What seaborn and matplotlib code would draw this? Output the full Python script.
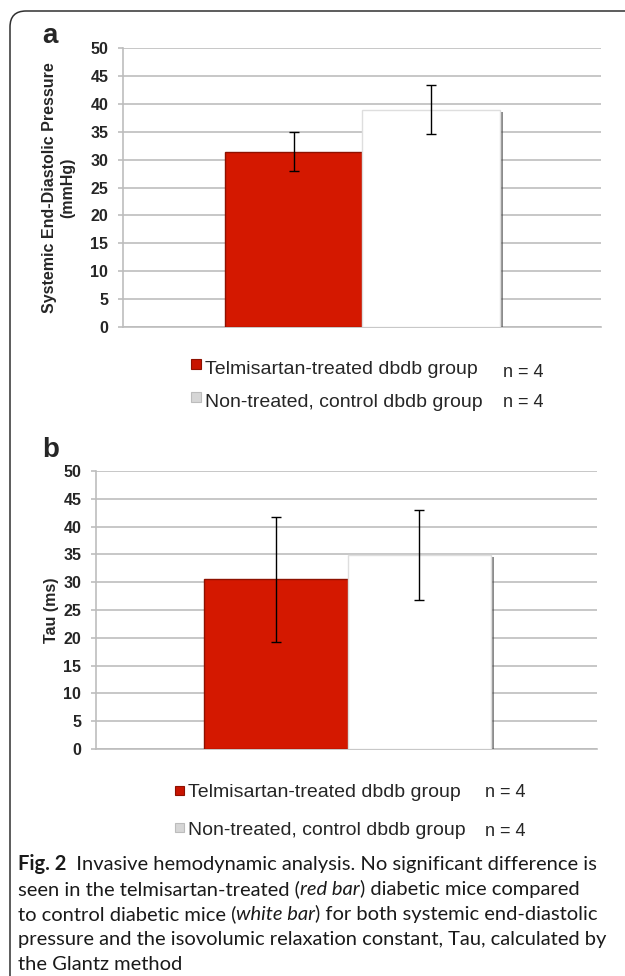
import numpy as np
import pandas as pd
import matplotlib
matplotlib.use("Agg")
import matplotlib.pyplot as plt
import matplotlib.patheffects as pe
from matplotlib.patches import Rectangle, FancyBboxPatch
import seaborn as sns

# ---- data ----
groups = ["Telmisartan-treated dbdb group", "Non-treated, control dbdb group"]
n_counts = [4, 4]
edp_mean = [31.4, 38.9]     # systemic end-diastolic pressure (mmHg)
edp_err = [3.5, 4.4]
tau_mean = [30.5, 34.9]     # Tau (ms)
tau_err = [11.3, 8.1]
bar_colors = ["#d41800", "#ffffff"]
edge_colors = ["#8e1100", "#dedede"]
marker_colors = ["#c81400", "#d6d6d6"]
yticks = [0, 5, 10, 15, 20, 25, 30, 35, 40, 45, 50]

caption_lines = [
    [("Fig. 2", "bold"), ("  Invasive hemodynamic analysis. No significant difference is", "normal")],
    [("seen in the telmisartan-treated (", "normal"), ("red bar", "italic"), (") diabetic mice compared", "normal")],
    [("to control diabetic mice (", "normal"), ("white bar", "italic"), (") for both systemic end-diastolic", "normal")],
    [("pressure and the isovolumic relaxation constant, Tau, calculated by", "normal")],
    [("the Glantz method", "normal")],
]

sns.set_style("white")
plt.rcParams["font.family"] = ["Liberation Sans", "DejaVu Sans"]

W, H = 625, 976
fig = plt.figure(figsize=(W / 100, H / 100), dpi=100)


def px_axes(left, top, right, bottom):
    return fig.add_axes([left / W, 1 - bottom / H, (right - left) / W, (bottom - top) / H])


def draw_panel(ax, means, errs, ylabel, xlim, label_x):
    df = pd.DataFrame({"group": groups, "value": means})
    sns.barplot(data=df, x="group", y="value", hue="group", palette=bar_colors,
                saturation=1, width=1.0, errorbar=None, legend=False, ax=ax, zorder=3)
    for patch, ec in zip(ax.patches, edge_colors):
        patch.set_edgecolor(ec)
        patch.set_linewidth(1.0)
        patch.set_path_effects([
            pe.SimplePatchShadow(offset=(2.4, -1.2), shadow_rgbFace="#404040", alpha=0.6),
            pe.Normal(),
        ])
    ax.errorbar(x=range(len(means)), y=means, yerr=errs, fmt="none", ecolor="black",
                elinewidth=1.0, capsize=3.3, capthick=1.0, zorder=5)
    ax.set_ylim(0, 50)
    ax.set_yticks(yticks)
    ax.set_xlim(*xlim)
    ax.set_xticks([])
    ax.set_xlabel("")
    ax.set_axisbelow(True)
    ax.yaxis.grid(True, color="#bdbdbd", linewidth=1.2)
    for s in ["top", "right"]:
        ax.spines[s].set_visible(False)
    for s in ["left", "bottom"]:
        ax.spines[s].set_color("#bdbdbd")
        ax.spines[s].set_linewidth(1.2)
    ax.tick_params(axis="y", length=3.6, width=1.2, color="#bdbdbd", pad=7,
                   labelsize=11.5, left=True)
    for t in ax.get_yticklabels():
        t.set_fontweight("bold")
    ax.set_ylabel(ylabel, fontsize=11.5, fontweight="bold", linespacing=1.25)
    ax.yaxis.set_label_coords(label_x, 0.5)


# panel a
ax_a = px_axes(123, 48, 601, 327)
draw_panel(ax_a, edp_mean, edp_err, "Systemic End-Diastolic Pressure\n(mmHg)",
           (-1.242, 2.235), -0.100)

# panel b
ax_b = px_axes(96, 471, 597, 749)
draw_panel(ax_b, tau_mean, tau_err, "Tau (ms)", (-1.253, 2.239), -0.073)

fig.text(42 / W, 1 - 43 / H, "a", fontsize=20, fontweight="bold", va="baseline")
fig.text(42 / W, 1 - 457 / H, "b", fontsize=20, fontweight="bold", va="baseline")


def draw_legend(sq_x, sq_size, text_x, n_x, rows):
    # rows: (square top, text baseline, n baseline)
    for i, (sq_top, base, n_base) in enumerate(rows):
        fig.add_artist(Rectangle((sq_x / W, 1 - (sq_top + sq_size) / H), sq_size / W, sq_size / H,
                                 transform=fig.transFigure, facecolor=marker_colors[i],
                                 edgecolor="#8e1100" if i == 0 else "#bcbcbc", linewidth=0.8))
        fig.text(text_x / W, 1 - base / H, groups[i], fontsize=14, va="baseline")
        fig.text(n_x / W, 1 - n_base / H, f"n = {n_counts[i]}", fontsize=13, va="baseline")


draw_legend(191, 10, 205, 503, [(359, 374, 377), (392, 407, 407)])
draw_legend(175, 8.5, 188, 485, [(786, 797, 797), (823, 835, 836)])

# caption
renderer = fig.canvas.get_renderer()
cap_font = ["Lato", "DejaVu Sans"]
for i, pieces in enumerate(caption_lines):
    x = 18
    base = 870 + 25 * i
    for txt, style in pieces:
        t = fig.text(x / W, 1 - base / H, txt, fontsize=14.5, va="baseline",
                     family=cap_font, color="#1a1a1a",
                     fontweight="bold" if style == "bold" else "normal",
                     fontstyle="italic" if style == "italic" else "normal")
        bb = t.get_window_extent(renderer=renderer)
        x = bb.x1

# outer rounded frame, cut at the right and bottom edges
fig.add_artist(FancyBboxPatch((10, -40), 700, H - 11 + 40,
                              boxstyle="round,pad=0,rounding_size=16",
                              transform=None, facecolor="none",
                              edgecolor="#303030", linewidth=1.1))

fig.savefig("out.png", dpi=100)
